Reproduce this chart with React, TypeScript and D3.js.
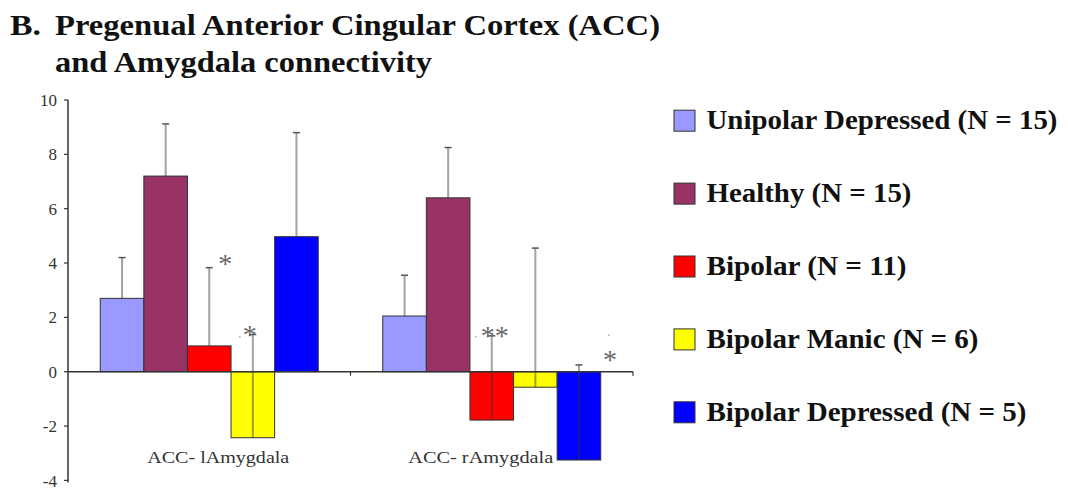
import React from "react";
import * as d3 from "d3";

// ---- data ----
const categories = ["ACC- lAmygdala", "ACC- rAmygdala"];
const seriesNames = [
  "Unipolar Depressed (N = 15)",
  "Healthy (N = 15)",
  "Bipolar (N = 11)",
  "Bipolar Manic (N = 6)",
  "Bipolar Depressed (N = 5)",
];
const unipolarMeans = [2.7, 2.05];
const healthyMeans = [7.2, 6.4];
const bipolarMeans = [0.95, -1.78];
const manicMeans = [-2.43, -0.57];
const bipolarDepMeans = [4.97, -3.25];
const unipolarErr = [1.5, 1.5];
const healthyErr = [1.92, 1.85];
const bipolarErr = [2.88, 3.1];
const manicErr = [3.8, 5.12];
const bipolarDepErr = [3.83, 3.5];
const yTicks = [-4, -2, 0, 2, 4, 6, 8, 10];
const titleLines = ["Pregenual Anterior Cingular Cortex (ACC)", "and Amygdala connectivity"];
const titlePrefix = "B.";
// significance marks: category index, series index, text, height (axis units)
const sigCats = [0, 0, 1, 1];
const sigSeries = [2, 3, 2, 4];
const sigTexts = ["*", "*", "**", "*"];
const sigValues = [4.22, 1.61, 1.57, 0.69];

// ---- styling ----
const colors = ["#9999FF", "#993366", "#FF0000", "#FFFF00", "#0000FF"];
const sigDx = [16, -3, 3, 31];
const dotCats = [0, 1, 1];
const dotSeries = [3, 2, 4];
const dotDx = [-13, -16, 30];
const dotValues = [1.28, 1.29, 1.35];
const labelShift = [9, -11];
const labelWidths = [142, 145];
const titleWidths = [605, 377];
const legendWidths = [351, 205, 200, 272, 320];

const means = [unipolarMeans, healthyMeans, bipolarMeans, manicMeans, bipolarDepMeans];
const errs = [unipolarErr, healthyErr, bipolarErr, manicErr, bipolarDepErr];

const serif = "'Liberation Serif', Tinos, 'DejaVu Serif', 'Noto Serif', serif";

export default function App() {
  const W = 1068;
  const H = 491;
  const y = d3.scaleLinear().domain([-4, 10]).range([480.4, 100]);
  const x0 = d3.scaleBand<string>().domain(categories).range([68, 633]);
  const x1 = d3
    .scaleBand<string>()
    .domain(seriesNames)
    .range([0, x0.bandwidth()])
    .paddingOuter(0.74);
  const bw = x1.bandwidth();
  const cx = (c: number, s: number) =>
    (x0(categories[c]) as number) + (x1(seriesNames[s]) as number) + bw / 2;

  const axisColor = "#333";
  const y0 = y(0);
  const sigSize = 28;

  return (
    <div style={{ position: "absolute", left: 0, top: 0 }}>
      <svg width={W} height={H} style={{ display: "block", background: "#fff" }}>
        {/* title */}
        <text
          x={10}
          y={35}
          style={{ fontFamily: serif }}
          fontWeight="bold"
          fontSize={30}
          fill="#111"
          textLength={31}
          lengthAdjust="spacingAndGlyphs"
        >
          {titlePrefix}
        </text>
        {titleLines.map((t, i) => (
          <text
            key={t}
            x={55}
            y={35 + i * 36.7}
            style={{ fontFamily: serif }}
            fontWeight="bold"
            fontSize={29}
            fill="#111"
            textLength={titleWidths[i]}
            lengthAdjust="spacingAndGlyphs"
          >
            {t}
          </text>
        ))}

        {/* bars */}
        {seriesNames.map((s, si) =>
          categories.map((c, ci) => {
            const v = means[si][ci];
            const x = (x0(c) as number) + (x1(s) as number);
            return (
              <rect
                key={s + c}
                x={x}
                y={Math.min(y(v), y0)}
                width={bw}
                height={Math.abs(y(v) - y0)}
                fill={colors[si]}
                stroke="#333"
                strokeWidth={1}
              />
            );
          })
        )}

        {/* error bars */}
        {seriesNames.map((s, si) =>
          categories.map((c, ci) => {
            const v = means[si][ci];
            const e = errs[si][ci];
            const xc = cx(ci, si);
            return (
              <g key={"e" + s + c}>
                <line
                  x1={xc}
                  x2={xc}
                  y1={y(v)}
                  y2={y(v + e)}
                  stroke="#333"
                  strokeOpacity={0.45}
                  strokeWidth={2}
                />
                <line
                  x1={xc - 3.5}
                  x2={xc + 3.5}
                  y1={y(v + e)}
                  y2={y(v + e)}
                  stroke="#555"
                  strokeWidth={1.5}
                />
              </g>
            );
          })
        )}

        {/* axes */}
        <line x1={68} x2={68} y1={y(10)} y2={y(-4) + 2} stroke={axisColor} strokeWidth={1.5} />
        {yTicks.map((t) => (
          <g key={t}>
            <line x1={64} x2={68} y1={y(t)} y2={y(t)} stroke={axisColor} strokeWidth={1.2} />
            <text
              x={57}
              y={y(t)}
              dy="0.36em"
              textAnchor="end"
              style={{ fontFamily: serif }}
              fontSize={17}
              fill="#333"
            >
              {t}
            </text>
          </g>
        ))}
        <line x1={68} x2={633} y1={y0} y2={y0} stroke={axisColor} strokeWidth={1.5} />
        {categories.map((c) => {
          const xe = (x0(c) as number) + x0.bandwidth();
          return (
            <line key={"t" + c} x1={xe} x2={xe} y1={y0} y2={y0 + 4} stroke={axisColor} strokeWidth={1.2} />
          );
        })}

        {/* category labels */}
        {categories.map((c, i) => (
          <text
            key={"l" + c}
            x={(x0(c) as number) + x0.bandwidth() / 2 + labelShift[i] - labelWidths[i] / 2}
            y={462.5}
            style={{ fontFamily: serif }}
            fontSize={17}
            fill="#333"
            textLength={labelWidths[i]}
            lengthAdjust="spacingAndGlyphs"
          >
            {c}
          </text>
        ))}

        {/* significance marks */}
        {sigTexts.map((t, i) => (
          <text
            key={"s" + i}
            x={cx(sigCats[i], sigSeries[i]) + sigDx[i]}
            y={y(sigValues[i]) + sigSize * 0.56}
            textAnchor="middle"
            style={{ fontFamily: serif }}
            fontSize={sigSize}
            fill="#666"
          >
            {t}
          </text>
        ))}
        {dotValues.map((v, i) => (
          <circle
            key={"d" + i}
            cx={cx(dotCats[i], dotSeries[i]) + dotDx[i]}
            cy={y(v)}
            r={0.9}
            fill="#aaa"
          />
        ))}

        {/* legend */}
        {seriesNames.map((s, i) => {
          const cy = 120.7 + i * 72.9;
          return (
            <g key={"lg" + s}>
              <rect x={674} y={cy - 10.5} width={21} height={21} fill={colors[i]} stroke="#333" strokeWidth={1} />
              <text
                x={706.5}
                y={cy + 8.5}
                style={{ fontFamily: serif }}
                fontWeight="bold"
                fontSize={28}
                fill="#111"
                textLength={legendWidths[i]}
                lengthAdjust="spacingAndGlyphs"
              >
                {s}
              </text>
            </g>
          );
        })}
      </svg>
    </div>
  );
}
